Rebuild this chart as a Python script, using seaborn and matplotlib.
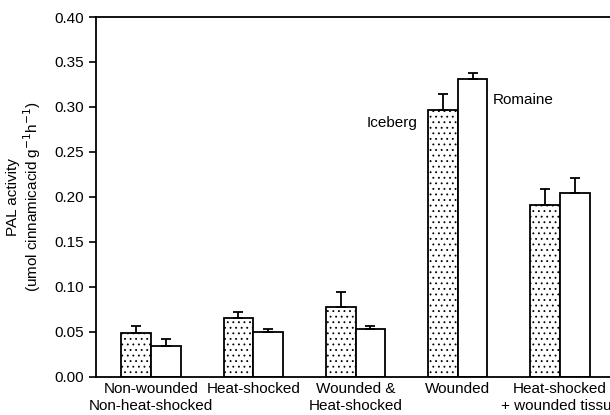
import numpy as np
import pandas as pd
import matplotlib
matplotlib.use("Agg")
import matplotlib.pyplot as plt
import seaborn as sns

# treatments and cultivars
treatments = ["Non-wounded\nNon-heat-shocked", "Heat-shocked", "Wounded &\nHeat-shocked",
              "Wounded", "Heat-shocked\n+ wounded tissue"]
cultivars = ["Iceberg", "Romaine"]

iceberg = [0.049, 0.0655, 0.078, 0.297, 0.191]
romaine = [0.034, 0.050, 0.053, 0.331, 0.204]
iceberg_err = [0.008, 0.007, 0.016, 0.017, 0.018]
romaine_err = [0.008, 0.003, 0.003, 0.007, 0.017]

yticks = [0.00, 0.05, 0.10, 0.15, 0.20, 0.25, 0.30, 0.35, 0.40]

df = pd.DataFrame({
    "treatment": treatments * 2,
    "cultivar": ["Iceberg"] * 5 + ["Romaine"] * 5,
    "activity": iceberg + romaine,
})

sns.set_style("ticks", {"axes.edgecolor": "black", "text.color": "black",
                        "xtick.color": "black", "ytick.color": "black",
                        "axes.labelcolor": "black"})
plt.rcParams["font.family"] = ["Liberation Sans", "DejaVu Sans"]
plt.rcParams["hatch.linewidth"] = 0.6

fig = plt.figure(figsize=(6.1, 4.15), dpi=100)
ax = fig.add_axes([0.157, 0.092, 0.845, 0.867])

sns.barplot(data=df, x="treatment", y="activity", hue="cultivar", order=treatments,
            hue_order=cultivars, palette=["white", "white"], edgecolor="black",
            linewidth=1.3, width=0.58, errorbar=None, legend=False, ax=ax)

# dotted fill for Iceberg, error bars from the bar patches
for container, vals, errs in zip(ax.containers, [iceberg, romaine], [iceberg_err, romaine_err]):
    xs = []
    for bar in container:
        if container is ax.containers[0]:
            bar.set_hatch(". . .")
        xs.append(bar.get_x() + bar.get_width() / 2)
    ax.errorbar(xs, vals, yerr=[np.zeros(len(vals)), errs], fmt="none",
                ecolor="black", elinewidth=1.3, capsize=3.5, capthick=1.3, zorder=1)

# cultivar labels next to the Wounded bars
wx = ax.containers[0][3]
rx = ax.containers[1][3]
ax.text(wx.get_x() - 0.1, iceberg[3] - 0.015, "Iceberg", ha="right", va="center", fontsize=11)
ax.text(rx.get_x() + rx.get_width() + 0.05, romaine[3] - 0.023, "Romaine", ha="left", va="center", fontsize=11)

ax.set_xlim(-0.54, 4.5)
ax.set_ylim(0, 0.40)
ax.set_yticks(yticks)
ax.set_yticklabels([f"{t:.2f}" for t in yticks], fontsize=11)
ax.tick_params(axis="x", length=0, labelsize=11, pad=4)
ax.tick_params(axis="y", length=5, width=1.2, direction="out")
ax.set_xlabel("")
ax.set_ylabel("PAL activity\n(umol cinnamicacid g$^{-1}$h$^{-1}$)", fontsize=11, labelpad=8,
              linespacing=1.1)
for side in ["left", "top", "bottom"]:
    ax.spines[side].set_linewidth(1.3)
ax.spines["right"].set_visible(False)

plt.savefig("out.png", dpi=100)
plt.close()
